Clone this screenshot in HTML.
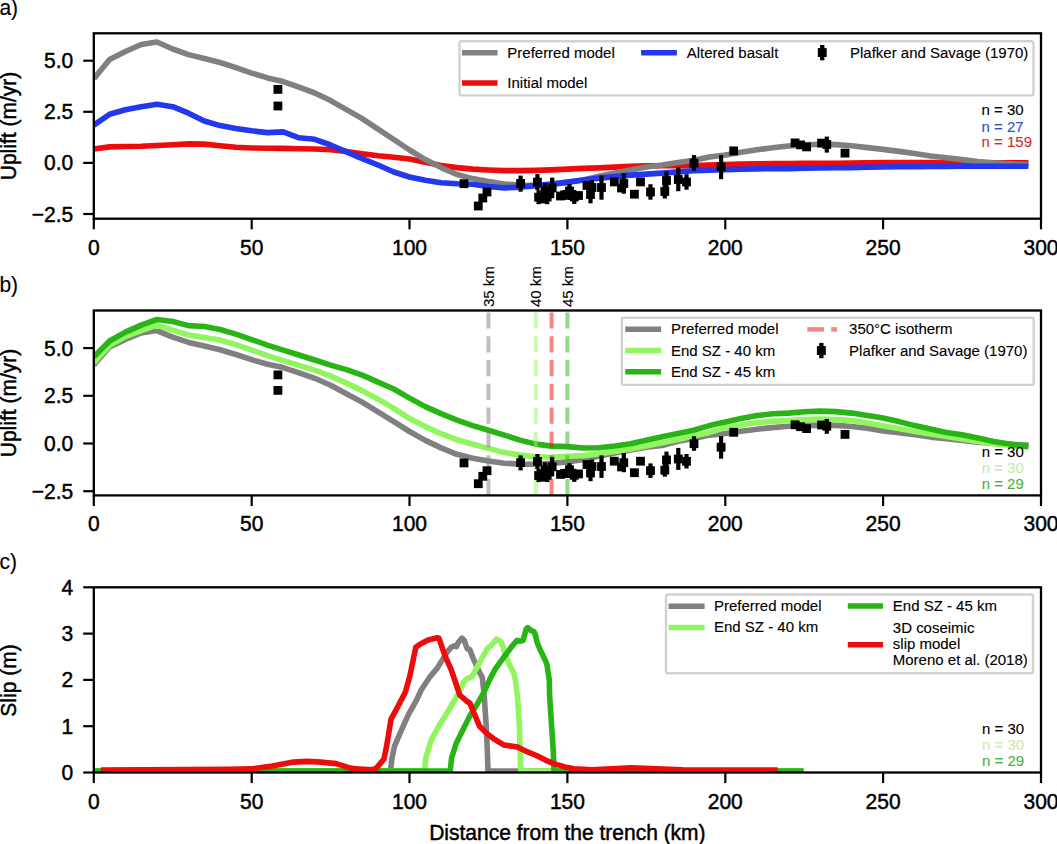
<!DOCTYPE html>
<html><head><meta charset="utf-8"><style>
html,body{margin:0;padding:0;background:#fff;overflow:hidden;}
svg{display:block;font-family:"Liberation Sans", sans-serif;}
text{stroke:currentColor;stroke-width:0.45px;paint-order:stroke;}
text.s{stroke-width:0.12px;}
</style></head><body>
<svg width="1057" height="844" viewBox="0 0 1057 844">
<rect width="1057" height="844" fill="#fff"/>
<clipPath id="clipa"><rect x="93.8" y="33.3" width="947.2" height="185.4"/></clipPath>
<text transform="translate(-0.60,15.30) scale(1,1.05)" font-size="21" text-anchor="start" fill="#000" color="#000" style="stroke-width:0.15px">a)</text>
<text transform="translate(15.6,126) rotate(-90) scale(1,1.05)" font-size="21" text-anchor="middle">Uplift (m/yr)</text>
<g clip-path="url(#clipa)">
<polyline points="93.8,149.0 109.6,146.9 125.4,146.5 141.2,146.3 156.9,145.5 172.7,144.7 188.5,143.9 204.3,144.1 220.1,145.8 235.9,147.3 251.7,148.0 267.5,148.2 283.2,148.4 299.0,148.7 314.8,149.0 330.6,149.7 346.4,151.4 362.2,153.7 378.0,155.7 393.8,157.2 409.5,159.0 425.3,162.2 441.1,165.6 456.9,167.6 472.7,169.1 488.5,170.0 504.3,170.6 520.0,170.6 535.8,170.4 551.6,169.9 567.4,169.1 583.2,168.4 599.0,167.9 614.8,167.1 630.6,166.3 646.3,165.9 662.1,165.8 677.9,165.7 693.7,165.6 709.5,165.1 725.3,164.6 741.1,164.1 756.9,163.8 772.6,163.6 788.4,163.5 804.2,163.4 820.0,163.3 835.8,163.2 851.6,163.0 867.4,162.8 883.1,162.6 898.9,162.6 914.7,162.6 930.5,162.6 946.3,162.6 962.1,162.6 977.9,162.7 993.7,162.7 1009.4,162.8 1025.2,162.8 1028.4,162.8" fill="none" stroke="#ee0b0b" stroke-width="5.6" stroke-linejoin="round" stroke-linecap="butt" />
<polyline points="93.8,78.6 109.6,59.5 125.4,51.5 141.2,44.5 156.9,42.0 172.7,49.0 188.5,54.6 204.3,58.5 220.1,62.5 235.9,67.6 251.7,73.1 267.5,77.9 283.2,81.6 299.0,87.2 314.8,93.0 330.6,100.6 346.4,109.6 362.2,118.6 378.0,129.1 393.8,139.5 409.5,150.0 425.3,159.6 441.1,167.6 456.9,174.5 472.7,178.6 488.5,181.6 504.3,184.0 520.0,185.0 535.8,185.2 551.6,184.2 567.4,182.6 583.2,180.0 599.0,176.2 614.8,173.0 630.6,170.0 646.3,167.0 662.1,165.0 677.9,162.5 693.7,160.3 709.5,157.0 725.3,155.0 741.1,152.3 756.9,149.8 772.6,147.8 788.4,146.0 804.2,144.9 820.0,144.3 835.8,144.6 851.6,145.8 867.4,147.6 883.1,149.4 898.9,151.4 914.7,153.6 930.5,156.0 946.3,157.8 962.1,159.6 977.9,161.5 993.7,162.9 1009.4,163.8 1025.2,164.5 1028.4,164.6" fill="none" stroke="#808080" stroke-width="5.6" stroke-linejoin="round" stroke-linecap="butt" />
<polyline points="93.8,125.2 109.6,114.3 125.4,109.7 141.2,106.7 156.9,104.2 172.7,106.7 188.5,113.2 204.3,121.0 220.1,125.6 235.9,128.4 251.7,130.8 267.5,132.6 283.2,131.9 299.0,137.8 314.8,139.3 330.6,145.0 346.4,151.9 362.2,158.6 378.0,165.0 393.8,172.0 409.5,177.0 425.3,180.3 441.1,182.7 456.9,183.7 472.7,184.2 488.5,186.5 504.3,187.9 520.0,187.1 535.8,185.6 551.6,184.1 567.4,182.1 583.2,180.0 599.0,178.1 614.8,176.6 630.6,175.1 646.3,174.1 662.1,173.1 677.9,171.9 693.7,170.7 709.5,170.2 725.3,169.6 741.1,169.3 756.9,168.9 772.6,168.6 788.4,168.6 804.2,168.3 820.0,168.0 835.8,167.8 851.6,167.6 867.4,167.2 883.1,167.0 898.9,166.8 914.7,166.7 930.5,166.5 946.3,166.4 962.1,166.3 977.9,166.3 993.7,166.2 1009.4,166.2 1025.2,166.2 1028.4,166.2" fill="none" stroke="#2337ee" stroke-width="5.6" stroke-linejoin="round" stroke-linecap="butt" />
<rect x="273.5" y="85.0" width="8.8" height="8.8" fill="#000"/>
<rect x="273.5" y="101.6" width="8.8" height="8.8" fill="#000"/>
<rect x="459.6" y="179.3" width="8.8" height="8.8" fill="#000"/>
<rect x="473.9" y="201.6" width="8.8" height="8.8" fill="#000"/>
<rect x="478.4" y="193.6" width="8.8" height="8.8" fill="#000"/>
<rect x="482.6" y="187.6" width="8.8" height="8.8" fill="#000"/>
<rect x="518.5" y="175.6" width="4.2" height="16.1" fill="#000"/>
<rect x="516.2" y="179.0" width="8.8" height="8.8" fill="#000"/>
<rect x="535.3" y="174.1" width="4.2" height="16.1" fill="#000"/>
<rect x="533.0" y="177.7" width="8.8" height="8.8" fill="#000"/>
<rect x="536.5" y="190.2" width="4.2" height="14.0" fill="#000"/>
<rect x="534.2" y="192.8" width="8.8" height="8.8" fill="#000"/>
<rect x="545.1" y="190.2" width="4.2" height="14.0" fill="#000"/>
<rect x="542.8" y="192.6" width="8.8" height="8.8" fill="#000"/>
<rect x="550.1" y="177.6" width="4.2" height="20.6" fill="#000"/>
<rect x="547.8" y="183.5" width="8.8" height="8.8" fill="#000"/>
<rect x="542.9" y="183.0" width="4.2" height="18.0" fill="#000"/>
<rect x="540.6" y="186.6" width="8.8" height="8.8" fill="#000"/>
<rect x="537.6" y="194.6" width="8.8" height="8.8" fill="#000"/>
<rect x="556.1" y="191.6" width="8.8" height="8.8" fill="#000"/>
<rect x="574.1" y="191.1" width="8.8" height="8.8" fill="#000"/>
<rect x="562.4" y="190.0" width="4.2" height="10.0" fill="#000"/>
<rect x="560.1" y="190.6" width="8.8" height="8.8" fill="#000"/>
<rect x="567.4" y="184.0" width="4.2" height="16.0" fill="#000"/>
<rect x="565.1" y="186.6" width="8.8" height="8.8" fill="#000"/>
<rect x="572.2" y="190.0" width="4.2" height="14.0" fill="#000"/>
<rect x="569.9" y="192.6" width="8.8" height="8.8" fill="#000"/>
<rect x="582.6" y="181.1" width="8.8" height="8.8" fill="#000"/>
<rect x="589.9" y="180.0" width="4.2" height="15.0" fill="#000"/>
<rect x="587.6" y="183.1" width="8.8" height="8.8" fill="#000"/>
<rect x="588.4" y="188.0" width="4.2" height="15.3" fill="#000"/>
<rect x="586.1" y="190.1" width="8.8" height="8.8" fill="#000"/>
<rect x="599.4" y="175.6" width="4.2" height="24.1" fill="#000"/>
<rect x="597.1" y="183.1" width="8.8" height="8.8" fill="#000"/>
<rect x="609.9" y="177.5" width="8.8" height="8.8" fill="#000"/>
<rect x="621.7" y="173.1" width="4.2" height="20.6" fill="#000"/>
<rect x="619.4" y="179.1" width="8.8" height="8.8" fill="#000"/>
<rect x="617.1" y="183.6" width="8.8" height="8.8" fill="#000"/>
<rect x="630.0" y="189.8" width="8.8" height="8.8" fill="#000"/>
<rect x="636.1" y="177.5" width="8.8" height="8.8" fill="#000"/>
<rect x="648.4" y="184.2" width="4.2" height="15.5" fill="#000"/>
<rect x="646.1" y="187.6" width="8.8" height="8.8" fill="#000"/>
<rect x="662.7" y="184.0" width="4.2" height="14.5" fill="#000"/>
<rect x="660.4" y="187.1" width="8.8" height="8.8" fill="#000"/>
<rect x="664.4" y="171.6" width="4.2" height="18.4" fill="#000"/>
<rect x="662.1" y="176.1" width="8.8" height="8.8" fill="#000"/>
<rect x="676.2" y="167.6" width="4.2" height="23.6" fill="#000"/>
<rect x="673.9" y="175.1" width="8.8" height="8.8" fill="#000"/>
<rect x="684.4" y="174.2" width="4.2" height="15.5" fill="#000"/>
<rect x="682.1" y="177.6" width="8.8" height="8.8" fill="#000"/>
<rect x="691.9" y="155.1" width="4.2" height="15.6" fill="#000"/>
<rect x="689.6" y="158.7" width="8.8" height="8.8" fill="#000"/>
<rect x="719.0" y="155.1" width="4.2" height="24.1" fill="#000"/>
<rect x="716.7" y="162.5" width="8.8" height="8.8" fill="#000"/>
<rect x="729.3" y="146.5" width="8.8" height="8.8" fill="#000"/>
<rect x="790.7" y="138.5" width="8.8" height="8.8" fill="#000"/>
<rect x="796.2" y="140.5" width="8.8" height="8.8" fill="#000"/>
<rect x="802.2" y="142.5" width="8.8" height="8.8" fill="#000"/>
<rect x="817.2" y="138.7" width="8.8" height="8.8" fill="#000"/>
<rect x="824.7" y="136.6" width="4.2" height="16.0" fill="#000"/>
<rect x="822.4" y="140.1" width="8.8" height="8.8" fill="#000"/>
<rect x="840.6" y="148.7" width="8.8" height="8.8" fill="#000"/>
</g>
<rect x="459.5" y="41.2" width="574.0" height="54.2" rx="2" ry="2" fill="#fff" fill-opacity="0.8" stroke="#d2d2d2" stroke-width="2.4"/>
<line x1="462.0" y1="52.8" x2="497.5" y2="52.8" stroke="#808080" stroke-width="5.5" />
<text transform="translate(507.30,57.80) scale(1,1.02)" font-size="15.0" text-anchor="start" fill="#000" color="#000" class="s" >Preferred model</text>
<line x1="462.0" y1="83.0" x2="497.5" y2="83.0" stroke="#ee0b0b" stroke-width="5.5" />
<text transform="translate(507.30,88.00) scale(1,1.02)" font-size="15.0" text-anchor="start" fill="#000" color="#000" class="s" >Initial model</text>
<line x1="641.1" y1="52.8" x2="676.9" y2="52.8" stroke="#2337ee" stroke-width="5.5" />
<text transform="translate(686.70,57.80) scale(1,1.02)" font-size="15.0" text-anchor="start" fill="#000" color="#000" class="s" >Altered basalt</text>
<rect x="820.1" y="45.0" width="4.3" height="15.3" fill="#000"/>
<rect x="817.8" y="48.1" width="8.9" height="8.9" fill="#000"/>
<text transform="translate(850.00,57.80) scale(1,1.02)" font-size="15.0" text-anchor="start" fill="#000" color="#000" class="s" >Plafker and Savage (1970)</text>
<text transform="translate(981.60,115.40) scale(1,1.02)" font-size="15.0" text-anchor="start" fill="#000" color="#000" class="s" >n = 30</text>
<text transform="translate(981.60,131.50) scale(1,1.02)" font-size="15.0" text-anchor="start" fill="#3050d0" color="#3050d0" class="s" >n = 27</text>
<text transform="translate(981.60,147.10) scale(1,1.02)" font-size="15.0" text-anchor="start" fill="#d03030" color="#d03030" class="s" >n = 159</text>
<line x1="93.8" y1="218.7" x2="93.8" y2="229.3" stroke="#000" stroke-width="2.2"/>
<text transform="translate(93.80,254.70) scale(1,1.05)" font-size="21" text-anchor="middle" fill="#000" color="#000" >0</text>
<line x1="251.7" y1="218.7" x2="251.7" y2="229.3" stroke="#000" stroke-width="2.2"/>
<text transform="translate(251.67,254.70) scale(1,1.05)" font-size="21" text-anchor="middle" fill="#000" color="#000" >50</text>
<line x1="409.5" y1="218.7" x2="409.5" y2="229.3" stroke="#000" stroke-width="2.2"/>
<text transform="translate(409.53,254.70) scale(1,1.05)" font-size="21" text-anchor="middle" fill="#000" color="#000" >100</text>
<line x1="567.4" y1="218.7" x2="567.4" y2="229.3" stroke="#000" stroke-width="2.2"/>
<text transform="translate(567.39,254.70) scale(1,1.05)" font-size="21" text-anchor="middle" fill="#000" color="#000" >150</text>
<line x1="725.3" y1="218.7" x2="725.3" y2="229.3" stroke="#000" stroke-width="2.2"/>
<text transform="translate(725.26,254.70) scale(1,1.05)" font-size="21" text-anchor="middle" fill="#000" color="#000" >200</text>
<line x1="883.1" y1="218.7" x2="883.1" y2="229.3" stroke="#000" stroke-width="2.2"/>
<text transform="translate(883.12,254.70) scale(1,1.05)" font-size="21" text-anchor="middle" fill="#000" color="#000" >250</text>
<line x1="1041.0" y1="218.7" x2="1041.0" y2="229.3" stroke="#000" stroke-width="2.2"/>
<text transform="translate(1040.99,254.70) scale(1,1.05)" font-size="21" text-anchor="middle" fill="#000" color="#000" >300</text>
<line x1="83.2" y1="60.7" x2="93.8" y2="60.7" stroke="#000" stroke-width="2.2"/>
<text transform="translate(73.20,68.20) scale(1,1.05)" font-size="21" text-anchor="end" fill="#000" color="#000" >5.0</text>
<line x1="83.2" y1="111.8" x2="93.8" y2="111.8" stroke="#000" stroke-width="2.2"/>
<text transform="translate(73.20,119.30) scale(1,1.05)" font-size="21" text-anchor="end" fill="#000" color="#000" >2.5</text>
<line x1="83.2" y1="162.9" x2="93.8" y2="162.9" stroke="#000" stroke-width="2.2"/>
<text transform="translate(73.20,170.40) scale(1,1.05)" font-size="21" text-anchor="end" fill="#000" color="#000" >0.0</text>
<line x1="83.2" y1="214.0" x2="93.8" y2="214.0" stroke="#000" stroke-width="2.2"/>
<text transform="translate(73.20,221.50) scale(1,1.05)" font-size="21" text-anchor="end" fill="#000" color="#000" >−2.5</text>
<rect x="93.8" y="33.3" width="947.2" height="185.4" fill="none" stroke="#000" stroke-width="2.3"/>
<clipPath id="clipb"><rect x="93.8" y="310.5" width="947.2" height="184.9"/></clipPath>
<text transform="translate(-0.60,291.60) scale(1,1.05)" font-size="21" text-anchor="start" fill="#000" color="#000" style="stroke-width:0.15px">b)</text>
<text transform="translate(15.6,403) rotate(-90) scale(1,1.05)" font-size="21" text-anchor="middle">Uplift (m/yr)</text>
<g clip-path="url(#clipb)">
<polyline points="93.8,364.8 109.6,347.0 125.4,339.5 141.2,333.0 156.9,330.6 172.7,337.2 188.5,342.4 204.3,346.0 220.1,349.8 235.9,354.5 251.7,359.7 267.5,364.2 283.2,367.6 299.0,372.8 314.8,378.3 330.6,385.3 346.4,393.7 362.2,402.1 378.0,411.9 393.8,421.7 409.5,431.5 425.3,440.4 441.1,447.9 456.9,454.3 472.7,458.2 488.5,461.0 504.3,463.2 520.0,464.1 535.8,464.3 551.6,463.4 567.4,461.9 583.2,459.5 599.0,455.9 614.8,452.9 630.6,450.1 646.3,447.3 662.1,445.5 677.9,441.2 693.7,438.4 709.5,435.1 725.3,433.5 741.1,431.2 756.9,429.2 772.6,427.6 788.4,426.2 804.2,425.4 820.0,425.1 835.8,425.4 851.6,426.5 867.4,428.2 883.1,430.9 898.9,432.8 914.7,434.8 930.5,437.1 946.3,438.7 962.1,440.4 977.9,442.2 993.7,443.5 1009.4,444.3 1025.2,445.0 1028.4,445.1" fill="none" stroke="#808080" stroke-width="5.6" stroke-linejoin="round" stroke-linecap="butt" />
<polyline points="93.8,363.0 109.6,345.3 125.4,336.6 141.2,330.6 156.9,325.1 172.7,330.1 188.5,335.1 204.3,337.6 220.1,340.1 235.9,344.6 251.7,350.1 267.5,355.6 283.2,360.6 299.0,365.4 314.8,370.1 330.6,376.1 346.4,383.1 362.2,390.6 378.0,399.2 393.8,408.4 409.5,418.6 425.3,426.6 441.1,433.7 456.9,439.7 472.7,444.2 488.5,448.4 504.3,452.6 520.0,455.1 535.8,456.7 551.6,457.2 567.4,456.2 583.2,455.6 599.0,453.8 614.8,451.6 630.6,449.0 646.3,446.0 662.1,442.8 677.9,439.6 693.7,436.0 709.5,432.4 725.3,427.6 741.1,425.1 756.9,422.6 772.6,421.4 788.4,420.6 804.2,419.6 820.0,419.1 835.8,419.6 851.6,420.6 867.4,423.1 883.1,426.1 898.9,428.6 914.7,431.6 930.5,434.1 946.3,436.6 962.1,438.9 977.9,441.5 993.7,443.5 1009.4,445.3 1025.2,446.8 1028.4,447.1" fill="none" stroke="#91f55f" stroke-width="5.6" stroke-linejoin="round" stroke-linecap="butt" />
<polyline points="93.8,356.8 109.6,341.0 125.4,332.1 141.2,325.1 156.9,319.5 172.7,321.5 188.5,325.6 204.3,326.5 220.1,329.5 235.9,334.1 251.7,339.6 267.5,345.1 283.2,350.1 299.0,355.0 314.8,360.0 330.6,365.1 346.4,369.6 362.2,375.1 378.0,382.1 393.8,389.0 409.5,398.1 425.3,406.6 441.1,413.6 456.9,420.1 472.7,425.6 488.5,430.2 504.3,435.1 520.0,440.1 535.8,444.1 551.6,446.1 567.4,446.6 583.2,448.0 599.0,447.8 614.8,446.0 630.6,443.8 646.3,440.3 662.1,436.8 677.9,433.6 693.7,430.2 709.5,425.6 725.3,422.1 741.1,418.6 756.9,415.6 772.6,413.8 788.4,413.1 804.2,411.8 820.0,411.1 835.8,411.6 851.6,413.1 867.4,415.6 883.1,418.1 898.9,421.6 914.7,425.6 930.5,429.1 946.3,432.6 962.1,434.8 977.9,438.1 993.7,441.6 1009.4,444.1 1025.2,446.1 1028.4,446.5" fill="none" stroke="#28b414" stroke-width="5.6" stroke-linejoin="round" stroke-linecap="butt" />
<line x1="488.5" y1="312.4" x2="488.5" y2="495.4" stroke="#808080" stroke-opacity="0.5" stroke-width="4" stroke-dasharray="16.2 7.6"/>
<line x1="535.8" y1="312.4" x2="535.8" y2="495.4" stroke="#91f55f" stroke-opacity="0.5" stroke-width="4" stroke-dasharray="16.2 7.6"/>
<line x1="551.6" y1="312.4" x2="551.6" y2="495.4" stroke="#ee0b0b" stroke-opacity="0.5" stroke-width="4" stroke-dasharray="16.2 7.6"/>
<line x1="567.4" y1="312.4" x2="567.4" y2="495.4" stroke="#28b414" stroke-opacity="0.5" stroke-width="4" stroke-dasharray="16.2 7.6"/>
<rect x="273.5" y="370.5" width="8.8" height="8.8" fill="#000"/>
<rect x="273.5" y="386.0" width="8.8" height="8.8" fill="#000"/>
<rect x="459.6" y="458.5" width="8.8" height="8.8" fill="#000"/>
<rect x="473.9" y="479.3" width="8.8" height="8.8" fill="#000"/>
<rect x="478.4" y="471.9" width="8.8" height="8.8" fill="#000"/>
<rect x="482.6" y="466.3" width="8.8" height="8.8" fill="#000"/>
<rect x="518.5" y="455.4" width="4.2" height="15.0" fill="#000"/>
<rect x="516.2" y="458.2" width="8.8" height="8.8" fill="#000"/>
<rect x="535.3" y="454.0" width="4.2" height="15.0" fill="#000"/>
<rect x="533.0" y="457.0" width="8.8" height="8.8" fill="#000"/>
<rect x="536.5" y="469.0" width="4.2" height="13.1" fill="#000"/>
<rect x="534.2" y="471.1" width="8.8" height="8.8" fill="#000"/>
<rect x="545.1" y="469.0" width="4.2" height="13.1" fill="#000"/>
<rect x="542.8" y="470.9" width="8.8" height="8.8" fill="#000"/>
<rect x="550.1" y="457.2" width="4.2" height="19.2" fill="#000"/>
<rect x="547.8" y="462.4" width="8.8" height="8.8" fill="#000"/>
<rect x="542.9" y="462.3" width="4.2" height="16.8" fill="#000"/>
<rect x="540.6" y="465.3" width="8.8" height="8.8" fill="#000"/>
<rect x="537.6" y="472.8" width="8.8" height="8.8" fill="#000"/>
<rect x="556.1" y="470.0" width="8.8" height="8.8" fill="#000"/>
<rect x="574.1" y="469.5" width="8.8" height="8.8" fill="#000"/>
<rect x="562.4" y="468.8" width="4.2" height="9.3" fill="#000"/>
<rect x="560.1" y="469.1" width="8.8" height="8.8" fill="#000"/>
<rect x="567.4" y="463.2" width="4.2" height="14.9" fill="#000"/>
<rect x="565.1" y="465.3" width="8.8" height="8.8" fill="#000"/>
<rect x="572.2" y="468.8" width="4.2" height="13.1" fill="#000"/>
<rect x="569.9" y="470.9" width="8.8" height="8.8" fill="#000"/>
<rect x="582.6" y="460.2" width="8.8" height="8.8" fill="#000"/>
<rect x="589.9" y="459.5" width="4.2" height="14.0" fill="#000"/>
<rect x="587.6" y="462.1" width="8.8" height="8.8" fill="#000"/>
<rect x="588.4" y="466.9" width="4.2" height="14.3" fill="#000"/>
<rect x="586.1" y="468.6" width="8.8" height="8.8" fill="#000"/>
<rect x="599.4" y="455.4" width="4.2" height="22.5" fill="#000"/>
<rect x="597.1" y="462.1" width="8.8" height="8.8" fill="#000"/>
<rect x="609.9" y="456.8" width="8.8" height="8.8" fill="#000"/>
<rect x="621.7" y="453.0" width="4.2" height="19.2" fill="#000"/>
<rect x="619.4" y="458.3" width="8.8" height="8.8" fill="#000"/>
<rect x="617.1" y="462.5" width="8.8" height="8.8" fill="#000"/>
<rect x="630.0" y="468.3" width="8.8" height="8.8" fill="#000"/>
<rect x="636.1" y="456.8" width="8.8" height="8.8" fill="#000"/>
<rect x="648.4" y="463.4" width="4.2" height="14.5" fill="#000"/>
<rect x="646.1" y="466.3" width="8.8" height="8.8" fill="#000"/>
<rect x="662.7" y="463.2" width="4.2" height="13.5" fill="#000"/>
<rect x="660.4" y="465.8" width="8.8" height="8.8" fill="#000"/>
<rect x="664.4" y="451.6" width="4.2" height="17.2" fill="#000"/>
<rect x="662.1" y="455.5" width="8.8" height="8.8" fill="#000"/>
<rect x="676.2" y="447.9" width="4.2" height="22.0" fill="#000"/>
<rect x="673.9" y="454.6" width="8.8" height="8.8" fill="#000"/>
<rect x="684.4" y="454.0" width="4.2" height="14.5" fill="#000"/>
<rect x="682.1" y="456.9" width="8.8" height="8.8" fill="#000"/>
<rect x="691.9" y="436.2" width="4.2" height="14.6" fill="#000"/>
<rect x="689.6" y="439.3" width="8.8" height="8.8" fill="#000"/>
<rect x="719.0" y="436.2" width="4.2" height="22.5" fill="#000"/>
<rect x="716.7" y="442.8" width="8.8" height="8.8" fill="#000"/>
<rect x="729.3" y="427.9" width="8.8" height="8.8" fill="#000"/>
<rect x="790.7" y="420.4" width="8.8" height="8.8" fill="#000"/>
<rect x="796.2" y="422.3" width="8.8" height="8.8" fill="#000"/>
<rect x="802.2" y="424.2" width="8.8" height="8.8" fill="#000"/>
<rect x="817.2" y="420.6" width="8.8" height="8.8" fill="#000"/>
<rect x="824.7" y="418.9" width="4.2" height="14.9" fill="#000"/>
<rect x="822.4" y="421.9" width="8.8" height="8.8" fill="#000"/>
<rect x="840.6" y="430.0" width="8.8" height="8.8" fill="#000"/>
</g>
<text class="s" transform="translate(494.1,307) rotate(-90) scale(1,1.02)" font-size="15.0" text-anchor="start">35 km</text>
<text class="s" transform="translate(541.4,307) rotate(-90) scale(1,1.02)" font-size="15.0" text-anchor="start">40 km</text>
<text class="s" transform="translate(573.0,307) rotate(-90) scale(1,1.02)" font-size="15.0" text-anchor="start">45 km</text>
<rect x="621.9" y="317.7" width="411.8" height="67.2" rx="2" ry="2" fill="#fff" fill-opacity="0.8" stroke="#d2d2d2" stroke-width="2.4"/>
<line x1="625.3" y1="329.2" x2="661.1" y2="329.2" stroke="#808080" stroke-width="5.5" />
<text transform="translate(671.00,334.40) scale(1,1.02)" font-size="15.0" text-anchor="start" fill="#000" color="#000" class="s" >Preferred model</text>
<line x1="625.3" y1="350.4" x2="661.1" y2="350.4" stroke="#91f55f" stroke-width="5.5" />
<text transform="translate(671.00,355.60) scale(1,1.02)" font-size="15.0" text-anchor="start" fill="#000" color="#000" class="s" >End SZ - 40 km</text>
<line x1="625.3" y1="371.7" x2="661.1" y2="371.7" stroke="#28b414" stroke-width="5.5" />
<text transform="translate(671.00,376.80) scale(1,1.02)" font-size="15.0" text-anchor="start" fill="#000" color="#000" class="s" >End SZ - 45 km</text>
<line x1="807.3" y1="329.4" x2="823.9" y2="329.4" stroke="#ee0b0b" stroke-width="4.5" stroke-opacity="0.5"/>
<line x1="831.2" y1="329.4" x2="837.1" y2="329.4" stroke="#ee0b0b" stroke-width="4.5" stroke-opacity="0.5"/>
<text transform="translate(849.10,334.40) scale(1,1.02)" font-size="15.0" text-anchor="start" fill="#000" color="#000" class="s" >350°C isotherm</text>
<rect x="819.2" y="342.9" width="4.3" height="15.3" fill="#000"/>
<rect x="816.9" y="346.1" width="8.9" height="8.9" fill="#000"/>
<text transform="translate(849.10,355.60) scale(1,1.02)" font-size="15.0" text-anchor="start" fill="#000" color="#000" class="s" >Plafker and Savage (1970)</text>
<text transform="translate(981.70,457.30) scale(1,1.02)" font-size="15.0" text-anchor="start" fill="#000" color="#000" class="s" >n = 30</text>
<text transform="translate(981.70,472.80) scale(1,1.02)" font-size="15.0" text-anchor="start" fill="#c8ebb0" color="#c8ebb0" class="s" >n = 30</text>
<text transform="translate(981.70,488.90) scale(1,1.02)" font-size="15.0" text-anchor="start" fill="#4cb040" color="#4cb040" class="s" >n = 29</text>
<line x1="93.8" y1="495.4" x2="93.8" y2="506.0" stroke="#000" stroke-width="2.2"/>
<text transform="translate(93.80,531.40) scale(1,1.05)" font-size="21" text-anchor="middle" fill="#000" color="#000" >0</text>
<line x1="251.7" y1="495.4" x2="251.7" y2="506.0" stroke="#000" stroke-width="2.2"/>
<text transform="translate(251.67,531.40) scale(1,1.05)" font-size="21" text-anchor="middle" fill="#000" color="#000" >50</text>
<line x1="409.5" y1="495.4" x2="409.5" y2="506.0" stroke="#000" stroke-width="2.2"/>
<text transform="translate(409.53,531.40) scale(1,1.05)" font-size="21" text-anchor="middle" fill="#000" color="#000" >100</text>
<line x1="567.4" y1="495.4" x2="567.4" y2="506.0" stroke="#000" stroke-width="2.2"/>
<text transform="translate(567.39,531.40) scale(1,1.05)" font-size="21" text-anchor="middle" fill="#000" color="#000" >150</text>
<line x1="725.3" y1="495.4" x2="725.3" y2="506.0" stroke="#000" stroke-width="2.2"/>
<text transform="translate(725.26,531.40) scale(1,1.05)" font-size="21" text-anchor="middle" fill="#000" color="#000" >200</text>
<line x1="883.1" y1="495.4" x2="883.1" y2="506.0" stroke="#000" stroke-width="2.2"/>
<text transform="translate(883.12,531.40) scale(1,1.05)" font-size="21" text-anchor="middle" fill="#000" color="#000" >250</text>
<line x1="1041.0" y1="495.4" x2="1041.0" y2="506.0" stroke="#000" stroke-width="2.2"/>
<text transform="translate(1040.99,531.40) scale(1,1.05)" font-size="21" text-anchor="middle" fill="#000" color="#000" >300</text>
<line x1="83.2" y1="348.1" x2="93.8" y2="348.1" stroke="#000" stroke-width="2.2"/>
<text transform="translate(73.20,355.60) scale(1,1.05)" font-size="21" text-anchor="end" fill="#000" color="#000" >5.0</text>
<line x1="83.2" y1="395.8" x2="93.8" y2="395.8" stroke="#000" stroke-width="2.2"/>
<text transform="translate(73.20,403.30) scale(1,1.05)" font-size="21" text-anchor="end" fill="#000" color="#000" >2.5</text>
<line x1="83.2" y1="443.5" x2="93.8" y2="443.5" stroke="#000" stroke-width="2.2"/>
<text transform="translate(73.20,451.00) scale(1,1.05)" font-size="21" text-anchor="end" fill="#000" color="#000" >0.0</text>
<line x1="83.2" y1="491.2" x2="93.8" y2="491.2" stroke="#000" stroke-width="2.2"/>
<text transform="translate(73.20,498.70) scale(1,1.05)" font-size="21" text-anchor="end" fill="#000" color="#000" >−2.5</text>
<rect x="93.8" y="310.5" width="947.2" height="184.9" fill="none" stroke="#000" stroke-width="2.3"/>
<clipPath id="clipc"><rect x="93.8" y="587.3" width="947.2" height="185.2"/></clipPath>
<text transform="translate(-0.60,568.50) scale(1,1.05)" font-size="21" text-anchor="start" fill="#000" color="#000" style="stroke-width:0.15px">c)</text>
<text transform="translate(15.6,680.5) rotate(-90) scale(1,1.05)" font-size="21" text-anchor="middle">Slip (m)</text>
<g clip-path="url(#clipc)">
<polyline points="93.8,771.0 390.5,771.0 392.0,758.0 394.7,745.6 400.9,731.3 408.0,715.3 416.9,699.3 421.2,690.0 429.6,677.3 437.3,668.1 442.0,660.4 447.3,651.9 451.2,647.3 454.3,645.8 456.6,646.6 458.1,642.7 462.0,638.1 464.3,640.4 465.8,645.0 467.4,648.9 469.7,649.6 472.7,657.3 475.1,662.7 478.9,671.2 482.3,677.5 484.2,695.8 486.1,724.3 487.4,752.7 488.0,771.0 803.5,771.0" fill="none" stroke="#808080" stroke-width="5.6" stroke-linejoin="round" stroke-linecap="butt" />
<polyline points="93.8,771.0 424.5,771.0 425.8,758.0 431.1,740.2 440.0,724.2 448.9,710.0 456.0,697.6 462.2,686.0 463.5,682.0 466.6,678.9 472.0,676.6 475.8,669.6 482.0,658.1 484.6,653.5 487.7,648.1 490.8,645.8 496.6,639.2 500.8,641.2 503.1,647.3 505.4,655.0 509.3,664.3 513.9,673.5 515.4,680.0 517.4,695.8 519.3,724.3 520.2,752.7 520.8,771.0 803.5,771.0" fill="none" stroke="#91f55f" stroke-width="5.6" stroke-linejoin="round" stroke-linecap="butt" />
<polyline points="93.8,771.0 450.2,771.0 451.6,758.0 456.0,743.8 463.1,729.6 470.2,715.3 477.6,703.4 484.0,692.0 490.0,678.9 495.4,668.9 503.1,658.1 512.3,645.8 517.0,640.4 520.0,641.2 523.1,640.4 526.2,628.9 527.7,627.7 530.8,630.4 533.9,631.6 535.4,635.0 537.0,641.9 540.0,649.6 545.4,660.4 547.0,665.0 549.3,680.0 549.6,695.8 551.5,724.3 553.4,752.7 554.0,771.0 803.5,771.0" fill="none" stroke="#28b414" stroke-width="5.6" stroke-linejoin="round" stroke-linecap="butt" />
<polyline points="100.9,770.0 230.0,769.4 251.2,768.9 272.4,765.9 293.6,762.1 307.2,761.4 320.8,762.1 336.0,763.6 348.1,767.4 355.6,768.9 372.3,769.7 376.0,768.5 381.4,762.1 384.0,758.9 386.7,745.6 391.1,718.9 395.6,710.9 405.3,692.2 409.8,676.2 415.8,647.3 420.4,643.9 428.1,640.0 437.3,637.7 438.9,638.1 445.0,655.8 451.2,669.6 458.1,690.0 459.6,694.9 466.7,701.1 470.0,703.4 474.7,714.8 479.5,726.2 487.1,733.7 494.6,739.4 504.1,745.1 517.4,747.0 525.0,750.8 536.4,755.5 545.8,760.3 555.3,764.1 564.8,766.9 574.3,768.8 592.0,769.7 631.3,767.7 683.0,769.7 777.7,770.0" fill="none" stroke="#ee0b0b" stroke-width="5.6" stroke-linejoin="round" stroke-linecap="butt" />
</g>
<rect x="666.0" y="594.5" width="367.0" height="78.7" rx="2" ry="2" fill="#fff" fill-opacity="0.8" stroke="#d2d2d2" stroke-width="2.4"/>
<line x1="668.6" y1="606.2" x2="704.6" y2="606.2" stroke="#808080" stroke-width="5.5" />
<text transform="translate(714.00,610.90) scale(1,1.02)" font-size="15.0" text-anchor="start" fill="#000" color="#000" class="s" >Preferred model</text>
<line x1="668.6" y1="627.6" x2="704.6" y2="627.6" stroke="#91f55f" stroke-width="5.5" />
<text transform="translate(714.00,632.30) scale(1,1.02)" font-size="15.0" text-anchor="start" fill="#000" color="#000" class="s" >End SZ - 40 km</text>
<line x1="847.8" y1="606.1" x2="883.0" y2="606.1" stroke="#28b414" stroke-width="5.5" />
<text transform="translate(892.80,611.20) scale(1,1.02)" font-size="15.0" text-anchor="start" fill="#000" color="#000" class="s" >End SZ - 45 km</text>
<line x1="847.8" y1="644.8" x2="883.0" y2="644.8" stroke="#ee0b0b" stroke-width="5.5" />
<text transform="translate(892.80,632.50) scale(1,1.02)" font-size="15.0" text-anchor="start" fill="#000" color="#000" class="s" >3D coseimic</text>
<text transform="translate(892.80,648.60) scale(1,1.02)" font-size="15.0" text-anchor="start" fill="#000" color="#000" class="s" >slip model</text>
<text transform="translate(892.80,664.50) scale(1,1.02)" font-size="15.0" text-anchor="start" fill="#000" color="#000" class="s" >Moreno et al. (2018)</text>
<text transform="translate(982.00,734.20) scale(1,1.02)" font-size="15.0" text-anchor="start" fill="#000" color="#000" class="s" >n = 30</text>
<text transform="translate(982.00,749.90) scale(1,1.02)" font-size="15.0" text-anchor="start" fill="#c8ebb0" color="#c8ebb0" class="s" >n = 30</text>
<text transform="translate(982.00,766.00) scale(1,1.02)" font-size="15.0" text-anchor="start" fill="#4cb040" color="#4cb040" class="s" >n = 29</text>
<line x1="93.8" y1="772.5" x2="93.8" y2="783.1" stroke="#000" stroke-width="2.2"/>
<text transform="translate(93.80,808.50) scale(1,1.05)" font-size="21" text-anchor="middle" fill="#000" color="#000" >0</text>
<line x1="251.7" y1="772.5" x2="251.7" y2="783.1" stroke="#000" stroke-width="2.2"/>
<text transform="translate(251.67,808.50) scale(1,1.05)" font-size="21" text-anchor="middle" fill="#000" color="#000" >50</text>
<line x1="409.5" y1="772.5" x2="409.5" y2="783.1" stroke="#000" stroke-width="2.2"/>
<text transform="translate(409.53,808.50) scale(1,1.05)" font-size="21" text-anchor="middle" fill="#000" color="#000" >100</text>
<line x1="567.4" y1="772.5" x2="567.4" y2="783.1" stroke="#000" stroke-width="2.2"/>
<text transform="translate(567.39,808.50) scale(1,1.05)" font-size="21" text-anchor="middle" fill="#000" color="#000" >150</text>
<line x1="725.3" y1="772.5" x2="725.3" y2="783.1" stroke="#000" stroke-width="2.2"/>
<text transform="translate(725.26,808.50) scale(1,1.05)" font-size="21" text-anchor="middle" fill="#000" color="#000" >200</text>
<line x1="883.1" y1="772.5" x2="883.1" y2="783.1" stroke="#000" stroke-width="2.2"/>
<text transform="translate(883.12,808.50) scale(1,1.05)" font-size="21" text-anchor="middle" fill="#000" color="#000" >250</text>
<line x1="1041.0" y1="772.5" x2="1041.0" y2="783.1" stroke="#000" stroke-width="2.2"/>
<text transform="translate(1040.99,808.50) scale(1,1.05)" font-size="21" text-anchor="middle" fill="#000" color="#000" >300</text>
<line x1="83.2" y1="587.3" x2="93.8" y2="587.3" stroke="#000" stroke-width="2.2"/>
<text transform="translate(73.20,594.80) scale(1,1.05)" font-size="21" text-anchor="end" fill="#000" color="#000" >4</text>
<line x1="83.2" y1="633.6" x2="93.8" y2="633.6" stroke="#000" stroke-width="2.2"/>
<text transform="translate(73.20,641.10) scale(1,1.05)" font-size="21" text-anchor="end" fill="#000" color="#000" >3</text>
<line x1="83.2" y1="679.9" x2="93.8" y2="679.9" stroke="#000" stroke-width="2.2"/>
<text transform="translate(73.20,687.40) scale(1,1.05)" font-size="21" text-anchor="end" fill="#000" color="#000" >2</text>
<line x1="83.2" y1="726.2" x2="93.8" y2="726.2" stroke="#000" stroke-width="2.2"/>
<text transform="translate(73.20,733.70) scale(1,1.05)" font-size="21" text-anchor="end" fill="#000" color="#000" >1</text>
<line x1="83.2" y1="772.5" x2="93.8" y2="772.5" stroke="#000" stroke-width="2.2"/>
<text transform="translate(73.20,780.00) scale(1,1.05)" font-size="21" text-anchor="end" fill="#000" color="#000" >0</text>
<rect x="93.8" y="587.3" width="947.2" height="185.2" fill="none" stroke="#000" stroke-width="2.3"/>
<text transform="translate(567.40,839.80) scale(1,1.05)" font-size="21" text-anchor="middle" fill="#000" color="#000" >Distance from the trench (km)</text>
</svg></body></html>
